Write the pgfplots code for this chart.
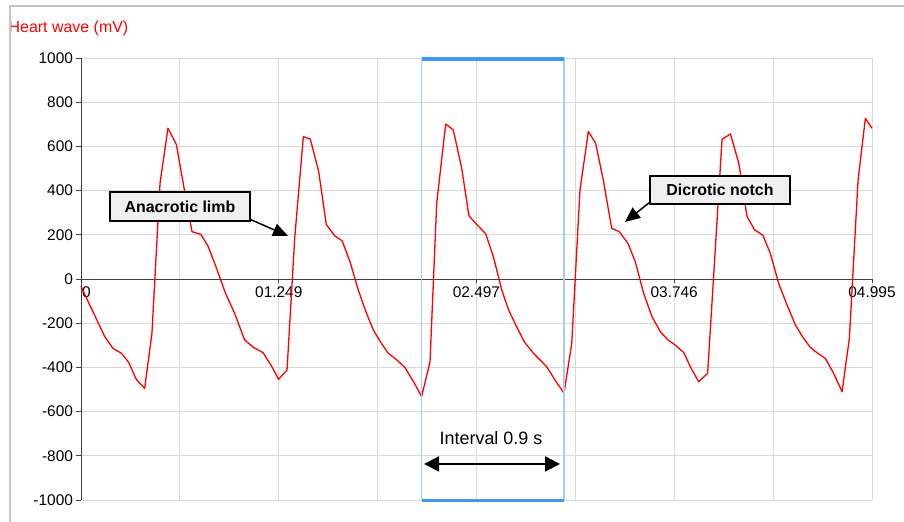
\documentclass[border=0pt]{standalone}
\usepackage{fontspec}
\setmainfont{Liberation Sans}
\usepackage{pgfplots}
\pgfplotsset{compat=1.18}
\usetikzlibrary{arrows.meta}
\definecolor{gridgray}{HTML}{D9D9D9}
\definecolor{axisgray}{HTML}{404040}
\definecolor{framegray}{HTML}{C4C4C4}
\definecolor{barblue}{HTML}{3A9BEF}
\definecolor{sideblue}{HTML}{A6CEF5}
\definecolor{boxfill}{HTML}{F0F0F0}
\begin{document}
\begin{tikzpicture}[x=1bp,y=1bp]
\useasboundingbox (0,0) rectangle (904,522);
\fill[white] (0,0) rectangle (904,522);
\begin{axis}[
  at={(81bp,22bp)}, anchor=south west,
  scale only axis, width=791bp, height=442bp,
  xmin=0, xmax=4.995, ymin=-1000, ymax=1000,
  clip=false,
  axis x line*=middle, axis y line*=left,
  axis line style={color=axisgray, line width=0.9bp, -},
  hide obscured x ticks=false, hide obscured y ticks=false,
  xtick={0,1.249,2.497,3.746,4.995},
  xticklabels={\rlap{\hspace*{1bp}0},01.249,02.497,03.746,04.995},
  minor xtick={0.6245,1.873,3.1215,4.3705},
  ytick={-1000,-800,...,1000},
  grid=both,
  major grid style={gridgray, line width=0.9bp},
  minor grid style={gridgray, line width=0.9bp},
  tick align=outside, major tick length=4.5bp, minor tick length=0pt,
  tick style={axisgray, line width=0.9bp},
  ticklabel style={font=\fontsize{15.5}{18}\selectfont, text=black},
  /pgf/number format/assume math mode=true,
  /pgf/number format/1000 sep={},
]
\addplot[red, line width=1.3bp, line join=round] coordinates {
(0.000,-32) (0.050,-110) (0.100,-185) (0.150,-261) (0.202,-314) (0.255,-336)
(0.301,-377) (0.349,-454) (0.402,-495) (0.448,-246) (0.499,433) (0.549,682)
(0.602,609) (0.650,415) (0.701,214) (0.756,202) (0.802,149) (0.850,60)
(0.910,-60) (0.970,-155) (1.033,-276) (1.090,-310) (1.149,-333) (1.200,-390)
(1.248,-454) (1.301,-412) (1.350,190) (1.404,644) (1.448,633) (1.501,486)
(1.549,247) (1.602,195) (1.650,172) (1.700,75) (1.751,-50) (1.800,-150)
(1.846,-231) (1.900,-295) (1.941,-336) (2.000,-370) (2.046,-401) (2.100,-465)
(2.151,-532) (2.204,-374) (2.246,342) (2.303,701) (2.351,674) (2.404,501)
(2.450,285) (2.503,244) (2.556,204) (2.604,101) (2.657,-50) (2.700,-140)
(2.751,-216) (2.800,-285) (2.857,-336) (2.941,-397) (3.004,-469) (3.050,-517)
(3.099,-291) (3.151,403) (3.204,667) (3.250,614) (3.298,448) (3.351,229)
(3.399,214) (3.454,161) (3.500,78) (3.553,-65) (3.606,-171) (3.658,-238)
(3.705,-275) (3.753,-299) (3.806,-333) (3.850,-400) (3.900,-465) (3.957,-427)
(4.048,632) (4.101,656) (4.154,523) (4.206,282) (4.254,222) (4.305,199)
(4.353,116) (4.405,-19) (4.460,-120) (4.511,-208) (4.560,-265) (4.605,-309)
(4.650,-335) (4.700,-359) (4.753,-427) (4.806,-510) (4.852,-268) (4.907,448)
(4.953,727) (4.995,682)
};
% interval highlight
\draw[sideblue, line width=1.2bp] (axis cs:2.151,1000) -- (axis cs:2.151,-1000);
\draw[sideblue, line width=1.2bp] (axis cs:3.050,1000) -- (axis cs:3.050,-1000);
\draw[barblue, line width=3.7bp] ([yshift=-1.2bp]axis cs:2.151,1000) -- ([yshift=-1.2bp]axis cs:3.050,1000);
\draw[barblue, line width=3.7bp] ([yshift=-0.5bp]axis cs:2.151,-1000) -- ([yshift=-0.5bp]axis cs:3.050,-1000);
\draw[black, line width=2bp, {Triangle[length=15bp,width=15bp]}-{Triangle[length=15bp,width=15bp]}]
  (axis cs:2.166,-837) -- (axis cs:3.025,-837);
\node[font=\fontsize{18}{21}\selectfont] at (axis cs:2.589,-719) {Interval 0.9 s};
% annotations
\draw[black, line width=1.5bp, -{Triangle[length=15bp,width=13bp]}] (axis cs:1.004,290) -- (axis cs:1.307,195);
\node[draw=black, fill=boxfill, line width=1.3bp, minimum width=140bp, minimum height=29bp, inner sep=0pt,
  font=\bfseries\fontsize{16}{19}\selectfont] at (axis cs:0.625,328) {Anacrotic limb};
\draw[black, line width=1.5bp, -{Triangle[length=15bp,width=13bp]}] (axis cs:3.593,348) -- (axis cs:3.435,258);
\node[draw=black, fill=boxfill, line width=1.3bp, minimum width=140bp, minimum height=28bp, inner sep=0pt,
  font=\bfseries\fontsize{16}{19}\selectfont] at (axis cs:4.035,403) {Dicrotic notch};
\end{axis}
\node[anchor=base west, inner sep=0pt, text=red, font=\fontsize{16}{19}\selectfont] at (8.5,489) {Heart wave (mV)};
\draw[framegray, line width=2bp] (10,0) -- (10,516) -- (904,516);
\end{tikzpicture}
\end{document}
